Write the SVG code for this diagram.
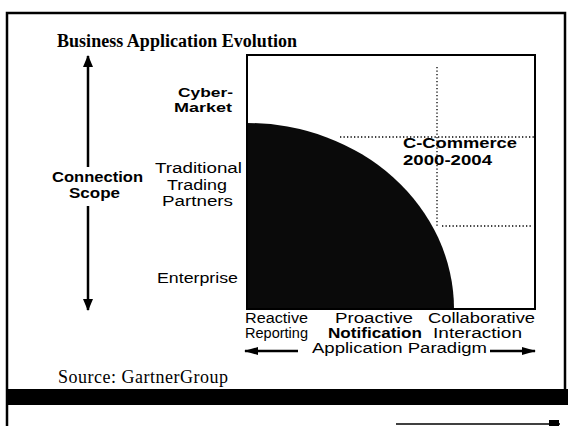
<svg xmlns="http://www.w3.org/2000/svg" width="568" height="426" viewBox="0 0 568 426">
<style>
.frame{fill:none;stroke:#000;stroke-width:2.5}
.box{fill:none;stroke:#000;stroke-width:2}
.dot{fill:none;stroke:#000;stroke-width:1.3;stroke-dasharray:1.3 2.2}
.axis{fill:none;stroke:#000;stroke-width:2.5}
.lbl{font-family:"Liberation Sans",Arial,sans-serif;font-size:14px;fill:#000}
.sm{font-size:13px}
.b{font-weight:bold}
.serif{font-family:"Liberation Serif","Times New Roman",serif;fill:#000}
</style>
<defs>
<marker id="ah" viewBox="0 0 12 10" refX="11" refY="5" markerWidth="12" markerHeight="10" markerUnits="userSpaceOnUse" orient="auto">
<path d="M0,0 L12,5 L0,10 Z" fill="#000"/>
</marker>
<marker id="ahs" viewBox="0 0 14 8" refX="13" refY="4" markerWidth="14" markerHeight="8" markerUnits="userSpaceOnUse" orient="auto">
<path d="M0,0 L14,4 L0,8 Z" fill="#000"/>
</marker>
</defs>
<rect width="568" height="426" fill="#fff"/>
<g id="frame">
<path class="frame" d="M7,426 V13 H565 V390"/>
<rect x="7" y="389" width="561" height="16" fill="#000"/>
<path d="M396,424 H560" stroke="#000" stroke-width="1.5"/>
<rect x="549" y="420" width="10" height="6" fill="#000"/>
</g>
<g id="title">
<text class="serif" x="57" y="47" font-size="18" font-weight="bold" textLength="240">Business Application Evolution</text>
</g>
<g id="chart">
<path d="M247,309 V123 A207,186 0 0 1 454,309 Z" fill="#0a0a0a"/>
<rect class="box" x="247" y="55" width="288" height="254"/>
<path class="dot" d="M437,67 V226"/>
<path class="dot" d="M340,137 H535"/>
<path class="dot" d="M442,226 H533"/>
</g>
<g id="c-commerce">
<text class="lbl b" x="403" y="148" textLength="114" lengthAdjust="spacingAndGlyphs">C-Commerce</text>
<text class="lbl b" x="403" y="165" textLength="89" lengthAdjust="spacingAndGlyphs">2000-2004</text>
</g>
<g id="connectors">
<path class="axis" d="M88,167 V56" marker-end="url(#ah)"/>
<path class="axis" d="M88,206 V310" marker-end="url(#ah)"/>
<path class="axis" d="M298,351 H245" stroke-width="2" marker-end="url(#ahs)"/>
<path class="axis" d="M490,351 H535" stroke-width="2" marker-end="url(#ahs)"/>
</g>
<g id="y-axis-label">
<text class="lbl b" x="52" y="182" textLength="91" lengthAdjust="spacingAndGlyphs">Connection</text>
<text class="lbl b" x="69" y="198" textLength="51" lengthAdjust="spacingAndGlyphs">Scope</text>
</g>
<g id="cyber-market">
<text class="lbl sm b" x="178" y="97" textLength="55" lengthAdjust="spacingAndGlyphs">Cyber-</text>
<text class="lbl sm b" x="174" y="112" textLength="58" lengthAdjust="spacingAndGlyphs">Market</text>
</g>
<g id="trading-partners">
<text class="lbl" x="155" y="173" textLength="87" lengthAdjust="spacingAndGlyphs">Traditional</text>
<text class="lbl" x="167" y="190" textLength="60" lengthAdjust="spacingAndGlyphs">Trading</text>
<text class="lbl" x="162" y="206" textLength="71" lengthAdjust="spacingAndGlyphs">Partners</text>
</g>
<g id="enterprise">
<text class="lbl" x="157" y="283" textLength="81" lengthAdjust="spacingAndGlyphs">Enterprise</text>
</g>
<g id="reactive">
<text class="lbl" x="245" y="323" textLength="63" lengthAdjust="spacingAndGlyphs">Reactive</text>
<text class="lbl" x="245" y="338" textLength="63" lengthAdjust="spacingAndGlyphs">Reporting</text>
</g>
<g id="proactive">
<text class="lbl" x="335" y="323" textLength="78" lengthAdjust="spacingAndGlyphs">Proactive</text>
<text class="lbl b" x="328" y="338" textLength="94" lengthAdjust="spacingAndGlyphs">Notification</text>
</g>
<g id="collaborative">
<text class="lbl" x="428" y="323" textLength="107" lengthAdjust="spacingAndGlyphs">Collaborative</text>
<text class="lbl" x="433" y="338" textLength="89" lengthAdjust="spacingAndGlyphs">Interaction</text>
</g>
<g id="x-axis-label">
<text class="lbl" x="312" y="353" textLength="175" lengthAdjust="spacingAndGlyphs">Application Paradigm</text>
</g>
<g id="source">
<text class="serif" x="58" y="383" font-size="18" textLength="170">Source: GartnerGroup</text>
</g>
</svg>
